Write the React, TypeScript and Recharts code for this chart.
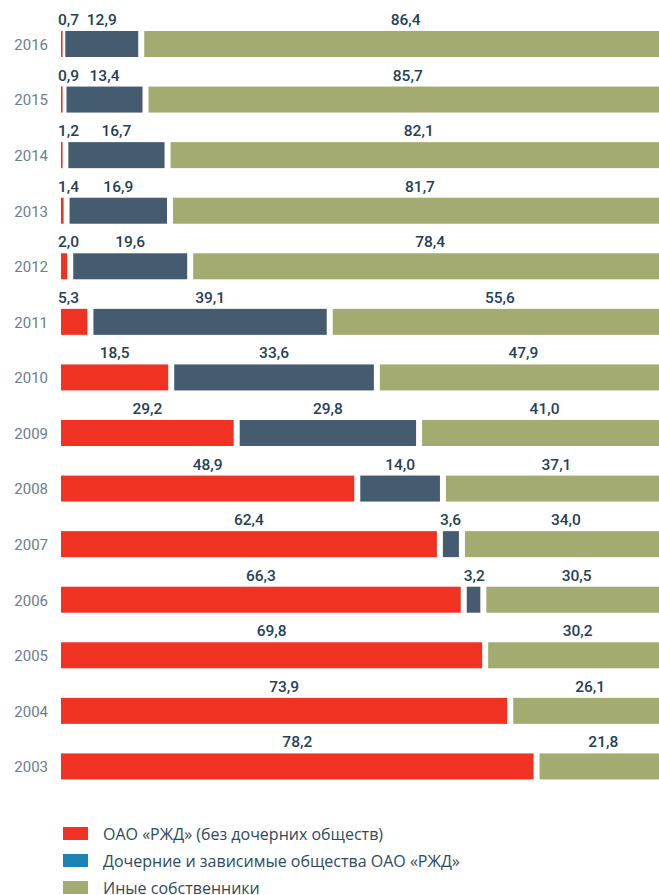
import { BarChart, Bar, XAxis, YAxis, LabelList } from 'recharts'

const years = ['2016', '2015', '2014', '2013', '2012', '2011', '2010', '2009', '2008', '2007', '2006', '2005', '2004', '2003']
const rzd = [0.7, 0.9, 1.2, 1.4, 2.0, 5.3, 18.5, 29.2, 48.9, 62.4, 66.3, 69.8, 73.9, 78.2]
const subsidiaries = [12.9, 13.4, 16.7, 16.9, 19.6, 39.1, 33.6, 29.8, 14.0, 3.6, 3.2, 0, 0, 0]
const others = [86.4, 85.7, 82.1, 81.7, 78.4, 55.6, 47.9, 41.0, 37.1, 34.0, 30.5, 30.2, 26.1, 21.8]

const series = [
  { key: 'rzd', name: 'ОАО «РЖД» (без дочерних обществ)', fill: '#f03223', legend: '#f03223' },
  { key: 'subs', name: 'Дочерние и зависимые общества ОАО «РЖД»', fill: '#455b70', legend: '#1b82b5' },
  { key: 'others', name: 'Иные собственники', fill: '#a3ab70', legend: '#a3ab70' },
]

const data = years.map((year, i) => ({
  year,
  rzd: rzd[i],
  subs: subsidiaries[i],
  others: others[i],
}))

const GAP = 6
const LABEL_FONT = 'Roboto, "Open Sans", sans-serif'

const fmt = (v: number) => v.toFixed(1).replace('.', ',')

function Segment(props: any) {
  const { x, y, width, height, fill, value } = props
  const v = Array.isArray(value) ? value[1] - value[0] : value
  if (!v || width <= 0) return null
  const w = Math.max(width - GAP, 1.6)
  return <rect x={x} y={y} width={w} height={height} fill={fill} />
}

function SegLabel(props: any) {
  const { x, y, width, value } = props
  if (!value) return null
  const w = Math.max(width - GAP, 1.6)
  const small = w < 30
  return (
    <text
      x={small ? x - 3 : x + w / 2}
      y={y - 6}
      textAnchor={small ? 'start' : 'middle'}
      fill="#1f4258"
      fontSize={15.5}
      fontWeight={500}
      fontFamily={LABEL_FONT}
    >
      {fmt(value)}
    </text>
  )
}

function YearTick(props: any) {
  const { y, payload } = props
  return (
    <text
      x={48} y={y + 1}
      textAnchor="end" dominantBaseline="central"
      fill="#6d7c8e" fontSize={15} fontFamily={LABEL_FONT}
    >
      {payload.value}
    </text>
  )
}

function LegendBox() {
  return (
    <div style={{ position: 'absolute', left: 63, top: 820, fontFamily: '"Open Sans", sans-serif' }}>
      {series.map((s) => (
        <div key={s.key} style={{ display: 'flex', alignItems: 'center', height: 27 }}>
          <div style={{ width: 25, height: 13, background: s.legend, marginRight: 15 }} />
          <span style={{ fontSize: 16, lineHeight: '20px', color: '#2e4a5e' }}>{s.name}</span>
        </div>
      ))}
    </div>
  )
}

export default function App() {
  return (
    <div style={{ position: 'absolute', left: 0, top: 0, width: 659, height: 895, overflow: 'hidden', background: '#fff' }}>
      <BarChart
        width={673} height={794}
        data={data} layout="vertical"
        margin={{ top: 16, right: 0, left: 0, bottom: 0 }}
        barSize={26}
      >
        <XAxis type="number" domain={[0, 100]} hide />
        <YAxis
          type="category" dataKey="year" width={61}
          axisLine={false} tickLine={false} tick={<YearTick />}
        />
        {series.map((s) => (
          <Bar
            key={s.key} dataKey={s.key} stackId="a" fill={s.fill}
            shape={<Segment />} isAnimationActive={false}
          >
            <LabelList dataKey={s.key} content={<SegLabel />} />
          </Bar>
        ))}
      </BarChart>
      <LegendBox />
    </div>
  )
}
